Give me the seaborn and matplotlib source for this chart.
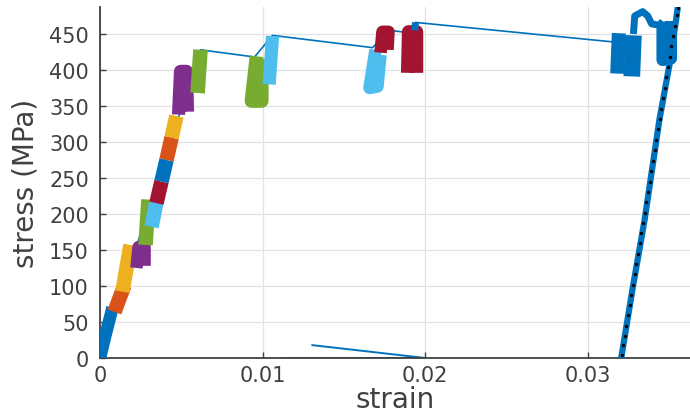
import matplotlib
matplotlib.use("Agg")
import matplotlib.pyplot as plt
import seaborn as sns

# ---------------- data ----------------
# thin connecting line of the stress-strain record
main_strain = [0.0, 0.00618, 0.0095, 0.01061, 0.01676, 0.0178, 0.0189, 0.0194, 0.03152]
main_stress = [0, 428, 418, 448, 431, 455, 452, 466, 439]

# remnant line near zero stress
tail_strain = [0.0130, 0.0200, 0.01145]
tail_stress = [18, 0, 0]

# elastic-region cycle clusters
c01_strain = [0.0, 0.00034, 0.00077];            c01_stress = [0, 32, 70]
c02_strain = [0.00089, 0.0012, 0.00151];         c02_stress = [64, 83, 101]
c03_strain = [0.00138, 0.00163, 0.00188];        c03_stress = [92, 125, 157]
c04_strain = [0.00224, 0.00237, 0.00274, 0.00274]; c04_stress = [125, 154, 154, 128]
c05_strain = [0.0028, 0.00298];                  c05_stress = [157, 220]
c06_strain = [0.00317, 0.00347];                 c06_stress = [182, 217]
c07_strain = [0.00347, 0.00378];                 c07_stress = [215, 245]
c08_strain = [0.00378, 0.00409];                 c08_stress = [245, 275]
c09_strain = [0.00409, 0.0044];                  c09_stress = [275, 306]
c10_strain = [0.0044, 0.0047];                   c10_stress = [306, 336]
c11_strain = [0.00483, 0.00495, 0.00532, 0.00538]; c11_stress = [338, 398, 398, 342]
c12_strain = [0.0060, 0.00618];                  c12_stress = [368, 428]

# yield-region cycle clusters
c13_strain = [0.00963, 0.00932, 0.00994, 0.00994]; c13_stress = [419, 357, 357, 415]
c14_strain = [0.0104, 0.01061];                  c14_stress = [380, 447]
c15_strain = [0.01694, 0.01657, 0.01706, 0.01725]; c15_stress = [428, 375, 377, 421]
c16_strain = [0.01725, 0.01737, 0.01774, 0.01768]; c16_stress = [424, 453, 453, 428]
c17_strain = [0.01891, 0.01897, 0.01947, 0.01947]; c17_stress = [396, 453, 453, 396]
c18_strain = [0.01935, 0.0194];                  c18_stress = [455, 466]
c19_strain = [0.0318, 0.0319];                   c19_stress = [395, 451]
c20_strain = [0.0327, 0.0328];                   c20_stress = [391, 448]
c21_strain = [0.0328, 0.03288, 0.03337, 0.03368, 0.03392, 0.03441, 0.0346]
c21_stress = [450, 475, 481, 475, 464, 462, 468]
c22_strain = [0.0346, 0.0346, 0.0351, 0.0351];   c22_stress = [466, 414, 416, 468]

# final unloading branch
unload_strain = [0.03205, 0.03277, 0.03349, 0.0344, 0.0350, 0.03544, 0.03552]
unload_stress = [0, 99, 192, 331, 405, 472, 486]

# black sample dots on the unloading branch
dot_strain = [0.03208, 0.03218, 0.03227, 0.03237, 0.03248, 0.03258, 0.03268, 0.03278,
              0.03289, 0.03299, 0.03309, 0.03319, 0.03329, 0.03339, 0.03349, 0.0336,
              0.0337, 0.0338, 0.03391, 0.03401, 0.03411, 0.03421, 0.03432, 0.03442,
              0.03452, 0.03463, 0.03473, 0.03483, 0.03493, 0.03503, 0.03514, 0.03524,
              0.03534, 0.03545, 0.03552]
dot_stress = [4, 18, 31, 45, 60, 74, 88, 102, 117, 131, 145, 160, 174, 188, 202, 217,
              231, 245, 260, 274, 289, 303, 318, 332, 346, 361, 375, 390, 404, 418,
              433, 447, 461, 476, 486]

x_ticks = [0, 0.01, 0.02, 0.03]
x_ticklabels = ["0", "0.01", "0.02", "0.03"]
y_ticks = [0, 50, 100, 150, 200, 250, 300, 350, 400, 450]

# ---------------- styling ----------------
BLUE, ORANGE, YELLOW = "#0072BD", "#D95319", "#EDB120"
PURPLE, GREEN, LBLUE, RED = "#7E2F8E", "#77AC30", "#4DBEEE", "#A2142F"
TXT = "#404040"

sns.set_theme(style="white")
plt.rcParams["font.family"] = ["DejaVu Sans"]

fig = plt.figure(figsize=(6.9, 4.14), dpi=100)
ax = fig.add_axes([100 / 690, 55 / 414, 590 / 690, 350.7 / 414])

def draw(xs, ys, color, lw, z=3, cap="butt"):
    sns.lineplot(x=xs, y=ys, sort=False, estimator=None, color=color, lw=lw,
                 ax=ax, zorder=z, solid_capstyle=cap, solid_joinstyle="round")

# thin line first
draw(main_strain, main_stress, BLUE, 1.2, z=2)
draw(tail_strain, tail_stress, BLUE, 1.4, z=2)

clusters = [
    (c01_strain, c01_stress, BLUE, 9.0),
    (c02_strain, c02_stress, ORANGE, 10.5),
    (c03_strain, c03_stress, YELLOW, 10.5),
    (c04_strain, c04_stress, PURPLE, 9.0),
    (c05_strain, c05_stress, GREEN, 10.5),
    (c06_strain, c06_stress, LBLUE, 10.5),
    (c07_strain, c07_stress, RED, 10.5),
    (c08_strain, c08_stress, BLUE, 10.5),
    (c09_strain, c09_stress, ORANGE, 10.5),
    (c10_strain, c10_stress, YELLOW, 10.5),
    (c11_strain, c11_stress, PURPLE, 9.5),
    (c12_strain, c12_stress, GREEN, 10.5),
    (c13_strain, c13_stress, GREEN, 10.0),
    (c14_strain, c14_stress, LBLUE, 9.5),
    (c15_strain, c15_stress, LBLUE, 9.0),
    (c16_strain, c16_stress, RED, 9.0),
    (c17_strain, c17_stress, RED, 9.5),
    (c18_strain, c18_stress, BLUE, 5.0),
    (c19_strain, c19_stress, BLUE, 10.0),
    (c20_strain, c20_stress, BLUE, 12.0),
    (c21_strain, c21_stress, BLUE, 5.0),
    (c22_strain, c22_stress, BLUE, 9.0),
]
for xs, ys, col, lw in clusters:
    draw(xs, ys, col, lw, z=3)

draw(unload_strain, unload_stress, BLUE, 4.5, z=4, cap="round")
sns.scatterplot(x=dot_strain, y=dot_stress, color="black", s=6, linewidth=0,
                ax=ax, zorder=5)

# axes
ax.set_xlim(0, 0.03628)
ax.set_ylim(0, 487)
ax.set_xticks(x_ticks)
ax.set_xticklabels(x_ticklabels)
ax.set_yticks(y_ticks)
ax.grid(True, color="#e2e2e2", lw=0.9)
ax.set_axisbelow(True)
for s in ["top", "right"]:
    ax.spines[s].set_visible(False)
for s in ["left", "bottom"]:
    ax.spines[s].set_color(TXT)
    ax.spines[s].set_linewidth(1.3)
ax.tick_params(axis="both", direction="in", length=4, width=1.0, color=TXT,
               labelcolor=TXT, labelsize=15, left=True, bottom=True)
ax.tick_params(axis="y", pad=8)
ax.tick_params(axis="x", pad=5)
ax.set_xlabel("strain", fontsize=20, color=TXT, labelpad=0)
ax.set_ylabel("stress (MPa)", fontsize=20, color=TXT, labelpad=7)

fig.savefig("out.png", dpi=100)
